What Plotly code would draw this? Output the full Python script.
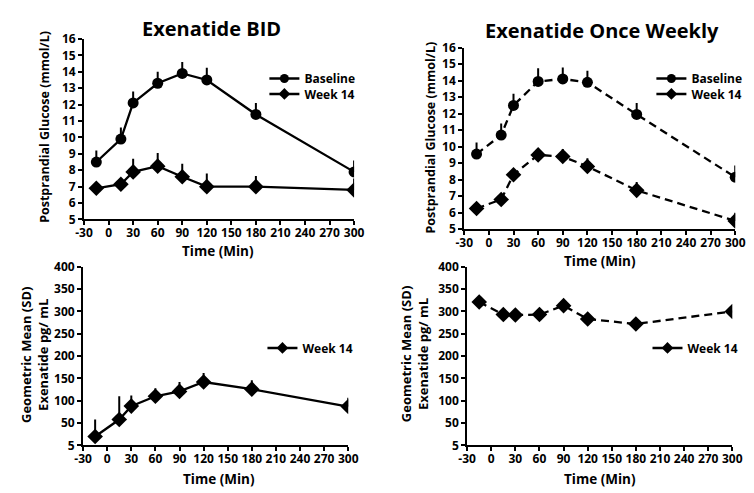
import plotly.graph_objects as go

# ---------------- data ----------------
time_min = [-15, 15, 30, 60, 90, 120, 180, 300]

bid_baseline = [8.5, 9.9, 12.1, 13.3, 13.9, 13.5, 11.4, 7.9]
bid_baseline_err = [0.7, 0.7, 0.7, 0.7, 0.7, 0.75, 0.7, 0.7]
bid_week14 = [6.9, 7.15, 7.9, 8.25, 7.6, 7.0, 7.0, 6.8]
bid_week14_err = [0.0, 0.0, 0.8, 0.8, 0.8, 0.8, 0.65, 0.7]

qw_baseline = [9.55, 10.7, 12.5, 13.95, 14.1, 13.9, 11.95, 8.15]
qw_baseline_err = [0.7, 0.7, 0.7, 0.8, 0.7, 0.7, 0.7, 0.7]
qw_week14 = [6.25, 6.8, 8.3, 9.5, 9.4, 8.8, 7.35, 5.5]
qw_week14_err = [0.0, 0.0, 0.0, 0.0, 0.45, 0.5, 0.5, 0.5]

bid_conc = [20, 58, 88, 110, 121, 142, 126, 87]
bid_conc_err = [38, 52, 24, 18, 21, 20, 20, 20]
qw_conc = [321, 293, 292, 293, 313, 283, 272, 300]

x_ticks = [-30, 0, 30, 60, 90, 120, 150, 180, 210, 240, 270, 300]
x_ticktext = ["-30", "0", "30", "60", "90", "120", "150", "180", "210",
              "240", "270", "300"]
glucose_ticks = list(range(5, 17))
conc_tickvals = [0, 50, 100, 150, 200, 250, 300, 350, 400]
conc_ticktext = ["5", "50", "100", "150", "200", "250", "300", "350", "400"]

titles = ["Exenatide BID", "Exenatide Once Weekly"]
glucose_title = "Postprandial Glucose (mmol/L)"
conc_title = "Geometric Mean (SD)<br>Exenatide pg/ mL"
time_title = "Time (Min)"
series_names = ["Baseline", "Week 14"]

# ---------------- style ----------------
FONT = "'Open Sans', 'Noto Sans', sans-serif"
W, H = 754, 493
DASH = "8px,5px"

def px(x0, x1):
    return [x0 / W, x1 / W]

def py(top, bottom):
    return [1 - bottom / H, 1 - top / H]

def b(s):
    return "<b>" + s.replace("<br>", "</b><br><b>") + "</b>"

fig = go.Figure()

def add_series(xa, ya, y, err, symbol, dash, size):
    fig.add_trace(go.Scatter(
        x=time_min, y=y, xaxis=xa, yaxis=ya, mode="lines+markers",
        line=dict(color="black", width=2.3, dash=dash),
        marker=dict(symbol=symbol, size=size, color="black"),
        error_y=dict(type="data", array=err, arrayminus=[0] * len(err),
                     symmetric=False, color="black", thickness=2, width=0),
        showlegend=False, hoverinfo="x+y"))

def add_legend(name, symbol, legend):
    fig.add_trace(go.Scatter(
        x=[None], y=[None], mode="lines+markers", name=b(name),
        line=dict(color="black", width=2.5),
        marker=dict(symbol=symbol, size=9, color="black"),
        legend=legend, showlegend=True))

# top-left
add_series("x", "y", bid_baseline, bid_baseline_err, "circle", "solid", 11)
add_series("x", "y", bid_week14, bid_week14_err, "diamond", "solid", 12)
add_legend(series_names[0], "circle", "legend")
add_legend(series_names[1], "diamond", "legend5")
# top-right
add_series("x2", "y2", qw_baseline, qw_baseline_err, "circle", DASH, 11)
add_series("x2", "y2", qw_week14, qw_week14_err, "diamond", DASH, 12)
add_legend(series_names[0], "circle", "legend2")
add_legend(series_names[1], "diamond", "legend6")
# bottom-left
add_series("x3", "y3", bid_conc, bid_conc_err, "diamond", "solid", 12)
add_legend(series_names[1], "diamond", "legend3")
# bottom-right
add_series("x4", "y4", qw_conc, [0] * len(qw_conc), "diamond", DASH, 12)
add_legend(series_names[1], "diamond", "legend4")

axis_common = dict(
    showline=True, linecolor="black", linewidth=2, ticks="outside",
    ticklen=4, tickwidth=2, tickcolor="black", showgrid=False,
    zeroline=False, tickfont=dict(family=FONT, size=12, color="black",
                                  weight="bold"),
    fixedrange=True)

xd = [px(77, 354), px(467, 745), px(76, 348), px(470, 742)]
yd = [py(31, 218), py(40, 228), py(267, 452), py(267, 452)]

layout = dict(
    width=W, height=H, margin=dict(l=0, r=0, t=0, b=0),
    paper_bgcolor="white", plot_bgcolor="white",
    font=dict(family=FONT, color="black"),
)
for i in range(4):
    sfx = "" if i == 0 else str(i + 1)
    layout["xaxis" + sfx] = dict(axis_common, domain=xd[i], range=[-30, 300],
                                 tickvals=x_ticks,
                                 ticktext=[b(t) for t in x_ticktext],
                                 ticklabelstandoff=-3,
                                 anchor="y" + sfx)
    if i < 2:
        layout["yaxis" + sfx] = dict(axis_common, domain=yd[i], range=[5, 16],
                                     tickvals=glucose_ticks,
                                     ticktext=[b(str(t)) for t in glucose_ticks],
                                     anchor="x" + sfx)
    else:
        layout["yaxis" + sfx] = dict(axis_common, domain=yd[i], range=[0, 400],
                                     tickvals=conc_tickvals,
                                     ticktext=[b(t) for t in conc_ticktext],
                                     anchor="x" + sfx)

leg_common = dict(font=dict(family=FONT, size=12, color="black", weight="bold"),
                  bgcolor="rgba(0,0,0,0)", xanchor="left", yanchor="middle",
                  tracegroupgap=0, itemclick=False, itemdoubleclick=False)
layout["legend"] = dict(leg_common, x=262 / W, y=1 - 72 / H)
layout["legend5"] = dict(leg_common, x=262 / W, y=1 - 88 / H)
layout["legend2"] = dict(leg_common, x=659 / W, y=1 - 72 / H)
layout["legend6"] = dict(leg_common, x=659 / W, y=1 - 88 / H)
layout["legend3"] = dict(leg_common, x=260 / W, y=1 - 351 / H)
layout["legend4"] = dict(leg_common, x=655 / W, y=1 - 351 / H)

fig.update_layout(**layout)

def ann(text, x, y, size, angle=0):
    fig.add_annotation(text=b(text), x=x / W, y=1 - y / H, xref="paper",
                       yref="paper", showarrow=False, textangle=angle,
                       xanchor="center", yanchor="middle",
                       font=dict(family=FONT, size=size, color="black",
                                 weight="bold"))

ann(titles[0], 208, 20, 20)
ann(titles[1], 608, 22, 20)
ann(glucose_title, 37, 122, 12.5, -90)
ann(glucose_title, 432, 133, 12.5, -90)
ann(conc_title, 26, 358, 13, -90)
ann(conc_title, 416, 358, 13, -90)
ann(time_title, 214, 251, 13.5)
ann(time_title, 606, 261, 13.5)
ann(time_title, 215, 487, 13.5)
ann(time_title, 606, 487, 13.5)

fig.write_html("out.html")
